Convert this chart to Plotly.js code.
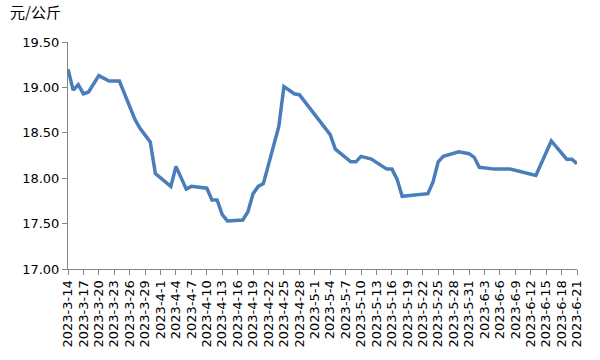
<!DOCTYPE html>
<html>
<head>
<meta charset="utf-8">
<script src="https://cdn.plot.ly/plotly-3.0.1.min.js"></script>
<style>html,body{margin:0;padding:0;background:#fff;}#chart{width:600px;height:360px;}</style>
</head>
<body>
<div id="chart"></div>
<script>
const dates = [
  '2023-03-14','2023-03-15','2023-03-16','2023-03-17','2023-03-18','2023-03-20','2023-03-22','2023-03-24',
  '2023-03-27','2023-03-28','2023-03-30','2023-03-31','2023-04-03','2023-04-04','2023-04-06','2023-04-07',
  '2023-04-10','2023-04-11','2023-04-12','2023-04-13','2023-04-14','2023-04-16','2023-04-17','2023-04-18',
  '2023-04-19','2023-04-20','2023-04-21','2023-04-24','2023-04-25','2023-04-27','2023-04-28','2023-05-04',
  '2023-05-05','2023-05-08','2023-05-09','2023-05-10','2023-05-12','2023-05-15','2023-05-16','2023-05-17',
  '2023-05-18','2023-05-23','2023-05-24','2023-05-25','2023-05-26','2023-05-29','2023-05-31','2023-06-01',
  '2023-06-02','2023-06-05','2023-06-08','2023-06-13','2023-06-16','2023-06-19','2023-06-20','2023-06-21'
];
const prices = [
  19.20,18.97,19.03,18.93,18.95,19.13,19.07,19.07,
  18.65,18.55,18.40,18.05,17.91,18.13,17.88,17.91,
  17.89,17.76,17.76,17.60,17.53,17.54,17.54,17.63,
  17.83,17.91,17.94,18.57,19.01,18.93,18.92,18.48,
  18.32,18.18,18.18,18.24,18.21,18.10,18.10,17.99,
  17.80,17.83,17.96,18.18,18.24,18.29,18.27,18.23,
  18.12,18.10,18.10,18.03,18.41,18.21,18.21,18.16
];
const unitLabel = '元/公斤';

const trace = {
  x: dates, y: prices, type: 'scatter', mode: 'lines',
  line: {color: '#4a7ebb', width: 3.5},
  hoverinfo: 'skip'
};
const layout = {
  width: 600, height: 360,
  margin: {l: 68, r: 23, t: 42, b: 91},
  paper_bgcolor: '#ffffff', plot_bgcolor: '#ffffff',
  showlegend: false,
  font: {family: 'DejaVu Sans, sans-serif', size: 13, color: '#000'},
  xaxis: {
    type: 'date',
    range: ['2023-03-14', '2023-06-21'],
    tick0: '2023-03-14', dtick: 3 * 86400000,
    tickformat: '%Y-%-m-%-d', tickangle: -90,
    showgrid: false, zeroline: false,
    showline: true, linecolor: '#868686', linewidth: 1,
    ticks: 'outside', ticklen: 5, tickcolor: '#868686',
    tickfont: {family: 'DejaVu Sans, sans-serif', size: 13, color: '#000'}
  },
  yaxis: {
    range: [17, 19.5], dtick: 0.5, tickformat: '.2f',
    showgrid: false, zeroline: false,
    showline: true, linecolor: '#868686', linewidth: 1,
    ticks: 'outside', ticklen: 5, tickcolor: '#868686',
    tickfont: {family: 'DejaVu Sans, sans-serif', size: 13, color: '#000'}
  },
  annotations: [{
    text: unitLabel, xref: 'paper', yref: 'paper',
    x: -60/509, y: 1 + 31/227.6, xanchor: 'left', yanchor: 'middle',
    showarrow: false,
    font: {family: 'Noto Sans CJK SC, sans-serif', size: 15, color: '#000'}
  }]
};
Plotly.newPlot('chart', [trace], layout, {displayModeBar: false, staticPlot: true});
</script>
</body>
</html>
